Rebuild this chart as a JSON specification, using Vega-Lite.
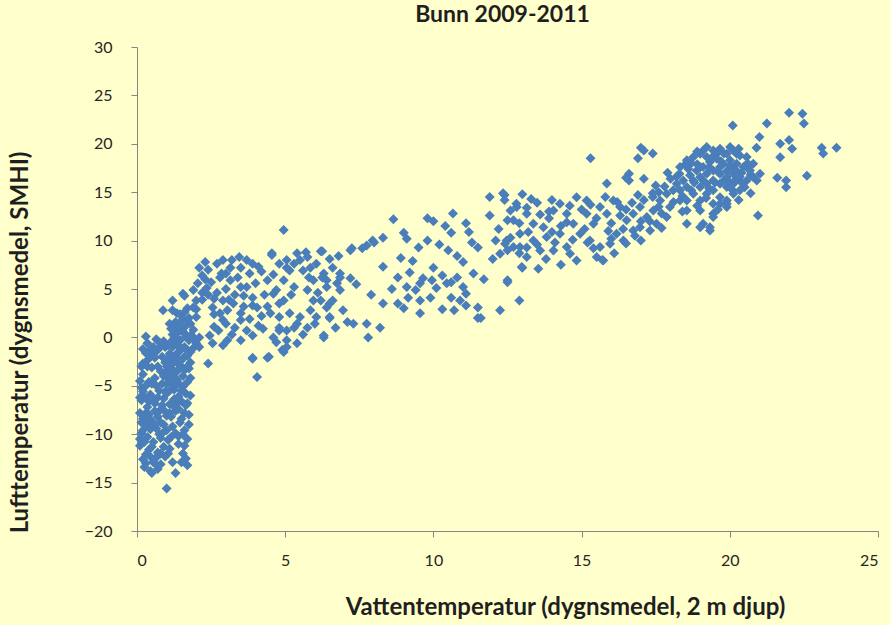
{
"$schema": "https://vega.github.io/schema/vega-lite/v6.json",
"width": 741, "height": 484,
"autosize": "none",
"padding": {"left": 137, "top": 47, "right": 13, "bottom": 94},
"background": "#FFFFCC",
"title": {"text": "Bunn 2009-2011", "font": "Lato", "fontSize": 23, "fontWeight": "bold", "color": "#1f1f1f", "anchor": "middle", "offset": 12, "dx": -5},
"config": {
  "view": {"stroke": null},
  "axis": {"domainColor": "#868686", "tickColor": "#868686", "tickSize": 6, "labelFont": "Lato", "labelFontSize": 16, "labelColor": "#262626", "titleFont": "Lato", "titleFontSize": 24, "titleFontWeight": "bold", "titleColor": "#1f1f1f", "grid": false, "labelPadding": 15}
},
"data": {"values": [
{"x":0.1,"y":-7.8},{"x":0.15,"y":-5.2},{"x":0.2,"y":-9.6},{"x":0.1,"y":-11.2},{"x":0.25,"y":-13.4},{"x":0.3,"y":-12.1},{"x":0.2,"y":-3.8},{"x":0.3,"y":-1.6},{"x":0.3,"y":0.1},{"x":0.15,"y":-6.5},{"x":0.2,"y":-8.4},{"x":0.35,"y":-10.3},{"x":0.4,"y":-4.6},{"x":0.1,"y":-10.5},{"x":0.45,"y":-13.8},{"x":0.25,"y":-2.7},{"x":0.35,"y":-7.2},{"x":0.4,"y":-11.6},{"x":0.2,"y":-12.6},{"x":0.3,"y":-9.1},{"x":0.45,"y":-5.9},{"x":0.5,"y":-3.1},{"x":0.5,"y":-8.6},{"x":0.55,"y":-12.9},{"x":0.4,"y":-2.2},{"x":0.35,"y":-0.6},{"x":0.55,"y":-10.8},{"x":0.6,"y":-6.8},{"x":0.6,"y":-4.2},{"x":0.65,"y":-9.4},{"x":0.7,"y":-1.3},{"x":0.7,"y":-11.9},{"x":0.75,"y":-7.6},{"x":0.8,"y":-3.5},{"x":0.8,"y":-13.1},{"x":0.75,"y":-5.5},{"x":0.85,"y":-9.9},{"x":0.9,"y":-0.4},{"x":0.9,"y":-6.3},{"x":0.95,"y":-12.3},{"x":0.95,"y":-2.6},{"x":1.0,"y":-4.8},{"x":1.0,"y":-8.1},{"x":1.0,"y":-15.6},{"x":1.05,"y":-10.6},{"x":1.1,"y":-1.7},{"x":1.1,"y":-6.9},{"x":1.15,"y":0.9},{"x":1.15,"y":-3.9},{"x":1.2,"y":-9.2},{"x":1.2,"y":-12.9},{"x":1.25,"y":-5.4},{"x":1.25,"y":-2.3},{"x":1.3,"y":-7.6},{"x":1.3,"y":1.6},{"x":1.3,"y":-14.0},{"x":1.35,"y":-0.8},{"x":1.35,"y":-4.4},{"x":1.4,"y":-10.2},{"x":1.4,"y":-6.1},{"x":1.45,"y":-2.9},{"x":1.45,"y":2.4},{"x":1.5,"y":-8.4},{"x":1.5,"y":-12.9},{"x":1.5,"y":-1.2},{"x":1.55,"y":-5.1},{"x":1.55,"y":-12.0},{"x":1.6,"y":-3.4},{"x":1.6,"y":0.4},{"x":1.6,"y":-9.6},{"x":1.65,"y":-7.0},{"x":1.7,"y":-1.9},{"x":1.7,"y":-4.6},{"x":1.7,"y":3.0},{"x":1.75,"y":-0.3},{"x":1.8,"y":1.4},{"x":1.8,"y":-2.6},{"x":1.9,"y":-1.1},{"x":1.9,"y":0.8},{"x":2.0,"y":2.1},{"x":2.0,"y":-0.6},
{"x":0.85,"y":-2.0},{"x":0.9,"y":-4.0},{"x":1.0,"y":-3.0},{"x":1.05,"y":-0.8},{"x":1.1,"y":-5.5},{"x":1.2,"y":-1.0},{"x":1.2,"y":-3.3},{"x":1.3,"y":-2.0},{"x":1.35,"y":-6.8},{"x":1.4,"y":-0.2},{"x":1.45,"y":-4.9},{"x":1.55,"y":-2.2},{"x":1.65,"y":-5.8},{"x":1.65,"y":1.2},{"x":0.95,"y":-1.0},{"x":1.05,"y":-4.2},{"x":1.15,"y":-2.8},{"x":1.25,"y":-0.1},{"x":1.35,"y":-3.5},{"x":1.5,"y":-6.6},{"x":1.45,"y":0.9},{"x":1.6,"y":-1.0},{"x":1.75,"y":-3.2},{"x":0.6,"y":-2.1},{"x":0.7,"y":-3.0},{"x":0.75,"y":-0.5},{"x":0.65,"y":-5.0},{"x":0.55,"y":-1.0},{"x":0.5,"y":-6.2},{"x":0.45,"y":-9.5},{"x":0.3,"y":-5.0},{"x":0.15,"y":-8.8},{"x":0.25,"y":-6.2},{"x":0.35,"y":-3.0},{"x":0.5,"y":-11.3},{"x":0.6,"y":-9.0},{"x":0.7,"y":-8.2},{"x":0.8,"y":-10.4},{"x":0.9,"y":-11.3},{"x":1.0,"y":-9.6},{"x":1.1,"y":-11.5},{"x":1.3,"y":-9.9},{"x":1.4,"y":-11.0},{"x":1.45,"y":-8.8},{"x":1.55,"y":-10.0},{"x":1.6,"y":-11.2},{"x":0.85,"y":-7.0},{"x":0.95,"y":-5.6},{"x":1.15,"y":-8.2},{"x":1.25,"y":-6.4},{"x":0.2,"y":-1.2},{"x":0.1,"y":-4.5},{"x":0.15,"y":-9.9},{"x":0.3,"y":-13.0},{"x":0.65,"y":-12.4},{"x":0.4,"y":-8.0},{"x":0.8,"y":-12.0},{"x":0.7,"y":-13.6},{"x":0.5,"y":-14.0},{"x":1.65,"y":-12.5},{"x":1.7,"y":-13.2},
{"x":1.75,"y":-8.0},{"x":1.8,"y":-6.0},{"x":1.7,"y":-10.5},{"x":1.75,"y":-9.0},{"x":1.8,"y":-4.2},{"x":1.8,"y":-1.5},{"x":1.85,"y":0.2},{"x":1.7,"y":-6.8},{"x":1.6,"y":-7.8},{"x":1.55,"y":-4.0},{"x":1.4,"y":-1.5},{"x":1.3,"y":-0.4},{"x":1.2,"y":0.3},{"x":1.05,"y":-2.2},{"x":0.95,"y":-3.6},{"x":0.85,"y":-4.8},{"x":1.1,"y":-3.5},{"x":1.25,"y":-4.1},{"x":1.35,"y":-2.6},{"x":1.45,"y":-1.0},{"x":1.5,"y":-3.0},{"x":1.3,"y":-5.0},{"x":1.15,"y":-4.8},{"x":1.0,"y":-5.8},{"x":0.9,"y":-7.5},{"x":1.1,"y":-7.8},{"x":1.2,"y":-7.0},{"x":1.4,"y":-7.4},{"x":1.5,"y":-5.5},{"x":1.6,"y":-2.0},{"x":1.7,"y":-3.0},{"x":1.65,"y":0.1},{"x":1.55,"y":0.6},{"x":1.45,"y":-0.3},{"x":1.35,"y":0.5},{"x":1.75,"y":2.0},{"x":1.55,"y":1.9},{"x":1.6,"y":2.6},{"x":1.4,"y":1.4},{"x":1.25,"y":0.9},{"x":0.8,"y":-8.8},{"x":0.7,"y":-6.2},{"x":0.6,"y":-7.6},{"x":0.5,"y":-4.8},{"x":0.4,"y":-6.6},{"x":0.3,"y":-7.8},{"x":0.2,"y":-5.6},{"x":0.1,"y":-6.2},{"x":0.15,"y":-3.0},{"x":0.25,"y":-10.8},{"x":0.35,"y":-8.8},{"x":0.45,"y":-12.3},{"x":0.6,"y":-13.0},{"x":0.75,"y":-10.0},{"x":0.9,"y":-9.0},{"x":1.05,"y":-12.0},{"x":1.15,"y":-10.3},{"x":0.55,"y":-1.8},{"x":0.65,"y":-0.2},{"x":0.45,"y":-1.3},
{"x":0.88,"y":2.8},{"x":1.2,"y":3.8},{"x":1.55,"y":4.5},{"x":1.9,"y":4.9},{"x":2.35,"y":5.1},{"x":2.7,"y":4.6},{"x":2.9,"y":3.8},{"x":3.05,"y":2.8},{"x":2.9,"y":1.8},{"x":2.75,"y":0.7},{"x":2.45,"y":0.2},{"x":2.1,"y":0.0},{"x":1.8,"y":0.2},{"x":1.45,"y":0.7},{"x":1.1,"y":1.4},{"x":1.35,"y":2.5},{"x":1.9,"y":3.1},{"x":2.55,"y":3.1},{"x":2.8,"y":2.5},{"x":1.7,"y":1.8},{"x":2.1,"y":-1.0},{"x":2.55,"y":-0.6},{"x":3.05,"y":-0.3},{"x":3.5,"y":-0.3},{"x":3.7,"y":0.7},{"x":3.5,"y":1.8},{"x":3.25,"y":3.5},{"x":3.5,"y":5.2},{"x":3.15,"y":5.9},{"x":2.8,"y":6.2},{"x":3.15,"y":7.2},{"x":3.5,"y":7.2},{"x":3.8,"y":6.6},{"x":3.7,"y":5.2},{"x":3.9,"y":4.1},{"x":4.05,"y":3.1},{"x":3.5,"y":2.5},{"x":0.78,"y":-1.0},{"x":0.45,"y":-1.7},{"x":1.2,"y":-0.3},{"x":1.7,"y":-1.3},{"x":1.35,"y":-1.7},{"x":1.0,"y":-2.4},{"x":0.2,"y":-2.7},
{"x":2.1,"y":7.2},{"x":2.2,"y":6.4},{"x":2.9,"y":8.0},{"x":3.2,"y":8.0},{"x":3.45,"y":8.3},{"x":3.7,"y":8.0},{"x":4.55,"y":8.5},{"x":2.85,"y":6.6},{"x":2.05,"y":5.6},{"x":1.6,"y":4.3},{"x":1.2,"y":2.8},{"x":2.4,"y":-2.7},{"x":4.05,"y":-4.1},{"x":3.9,"y":-2.2},{"x":4.45,"y":-2.0},{"x":4.9,"y":-1.3},{"x":4.25,"y":0.9},{"x":4.6,"y":0.0},{"x":3.9,"y":3.3},
{"x":2.2,"y":3.9},{"x":2.6,"y":4.0},{"x":2.0,"y":2.9},{"x":3.3,"y":4.4},{"x":3.0,"y":5.0},{"x":2.5,"y":5.7},{"x":2.2,"y":4.6},{"x":3.6,"y":3.2},{"x":3.3,"y":1.0},{"x":3.0,"y":1.4},{"x":2.6,"y":1.1},{"x":3.8,"y":1.9},{"x":4.2,"y":2.2},{"x":4.0,"y":5.6},{"x":4.2,"y":6.8},{"x":3.9,"y":7.6},{"x":2.4,"y":7.0},{"x":2.6,"y":2.4},{"x":1.95,"y":-0.3},{"x":3.2,"y":0.3},{"x":4.3,"y":4.4},
{"x":2.3,"y":7.8},{"x":2.7,"y":7.6},{"x":3.0,"y":6.6},{"x":3.4,"y":6.2},{"x":3.6,"y":4.3},{"x":3.1,"y":3.9},{"x":2.4,"y":4.4},{"x":2.0,"y":3.8},{"x":4.1,"y":7.3},{"x":4.4,"y":5.9},{"x":4.1,"y":1.2},{"x":3.9,"y":0.2},{"x":4.4,"y":3.2},{"x":2.9,"y":-0.8},{"x":2.3,"y":6.0},
{"x":5.05,"y":8.0},{"x":5.4,"y":8.7},{"x":5.75,"y":8.3},{"x":6.05,"y":7.6},{"x":6.3,"y":6.6},{"x":6.4,"y":5.2},{"x":6.2,"y":3.8},{"x":5.85,"y":2.8},{"x":5.5,"y":2.1},{"x":5.15,"y":2.5},{"x":4.8,"y":3.5},{"x":4.95,"y":5.9},{"x":5.15,"y":6.9},{"x":5.6,"y":6.9},{"x":5.95,"y":5.9},{"x":6.5,"y":3.5},{"x":6.75,"y":5.6},{"x":6.85,"y":6.6},{"x":6.95,"y":2.8},{"x":6.5,"y":2.1},{"x":5.3,"y":1.0},{"x":5.75,"y":1.0},{"x":4.8,"y":0.7},{"x":5.05,"y":-0.3},
{"x":4.55,"y":8.7},{"x":4.8,"y":7.6},{"x":5.5,"y":8.0},{"x":5.85,"y":7.2},{"x":6.2,"y":8.9},{"x":6.25,"y":6.2},{"x":4.7,"y":4.9},{"x":4.95,"y":3.8},{"x":5.75,"y":4.9},{"x":5.95,"y":3.8},{"x":6.05,"y":2.1},{"x":6.3,"y":0.0},{"x":4.8,"y":1.0},{"x":5.05,"y":-1.0},{"x":4.4,"y":-2.1},{"x":3.9,"y":-2.1},{"x":4.95,"y":-1.5},
{"x":5.05,"y":7.2},{"x":5.3,"y":7.6},{"x":4.6,"y":4.5},{"x":5.3,"y":5.2},{"x":4.8,"y":2.1},{"x":5.05,"y":0.7},{"x":5.4,"y":1.4},{"x":4.5,"y":2.5},{"x":4.95,"y":11.1},{"x":6.3,"y":0.2},
{"x":5.2,"y":4.4},{"x":5.8,"y":6.2},{"x":6.1,"y":4.6},{"x":6.6,"y":7.2},{"x":6.0,"y":1.4},{"x":5.6,"y":0.3},{"x":6.7,"y":1.0},{"x":4.6,"y":6.5},{"x":5.7,"y":8.8},{"x":6.5,"y":8.1},{"x":4.7,"y":-0.5},{"x":5.4,"y":-0.6},
{"x":10.66,"y":12.8},{"x":11.1,"y":11.8},{"x":9.8,"y":12.3},{"x":10.0,"y":12.0},{"x":8.65,"y":12.2},{"x":9.0,"y":10.8},{"x":9.1,"y":10.2},{"x":10.6,"y":10.8},{"x":9.8,"y":10.0},{"x":10.2,"y":9.6},{"x":10.5,"y":9.0},{"x":10.8,"y":8.4},{"x":11.0,"y":7.8},{"x":11.3,"y":9.8},{"x":11.5,"y":9.3},{"x":8.3,"y":10.3},{"x":8.0,"y":9.8},{"x":7.75,"y":9.5},{"x":7.6,"y":9.2},{"x":7.2,"y":9.0},{"x":6.8,"y":8.4},{"x":6.25,"y":8.9},{"x":8.3,"y":7.3},{"x":8.8,"y":6.2},{"x":8.6,"y":5.0},{"x":8.8,"y":3.5},{"x":8.3,"y":3.5},
{"x":9.3,"y":7.9},{"x":9.2,"y":6.7},{"x":9.55,"y":5.6},{"x":9.1,"y":5.2},{"x":9.4,"y":4.9},{"x":9.65,"y":6.1},{"x":9.95,"y":5.9},{"x":10.1,"y":5.1},{"x":9.9,"y":4.1},{"x":9.55,"y":3.8},{"x":9.15,"y":4.1},{"x":10.45,"y":5.6},{"x":10.6,"y":5.7},{"x":11.0,"y":5.2},{"x":11.35,"y":6.6},{"x":11.1,"y":4.5},{"x":10.6,"y":4.1},{"x":10.9,"y":3.8},{"x":11.1,"y":3.3},{"x":11.5,"y":3.1},{"x":11.5,"y":2.0},{"x":9.55,"y":2.5},
{"x":6.4,"y":5.9},{"x":6.85,"y":6.2},{"x":7.2,"y":6.1},{"x":6.85,"y":4.9},{"x":6.6,"y":3.8},{"x":6.4,"y":3.1},{"x":6.5,"y":2.0},{"x":7.1,"y":1.6},{"x":7.3,"y":1.4},{"x":7.75,"y":1.4},{"x":8.2,"y":1.0},{"x":7.8,"y":0.0},{"x":7.95,"y":10.0},{"x":7.25,"y":9.2},
{"x":10.3,"y":6.4},{"x":10.0,"y":7.2},{"x":10.8,"y":6.2},{"x":9.0,"y":3.0},{"x":10.3,"y":2.9},{"x":11.2,"y":10.9},{"x":10.4,"y":11.5},{"x":9.5,"y":9.3},{"x":8.9,"y":8.2},{"x":7.4,"y":5.5},{"x":7.9,"y":4.4},{"x":11.7,"y":6.0},{"x":10.7,"y":2.8},
{"x":11.9,"y":14.5},{"x":12.35,"y":14.9},{"x":12.6,"y":13.1},{"x":12.8,"y":13.8},{"x":13.15,"y":13.4},{"x":12.5,"y":12.1},{"x":12.9,"y":11.8},{"x":12.6,"y":10.3},{"x":12.5,"y":9.0},{"x":12.9,"y":8.7},{"x":13.15,"y":9.3},{"x":12.5,"y":5.9},{"x":12.9,"y":3.8},{"x":12.25,"y":2.8},{"x":11.6,"y":2.0},{"x":13.0,"y":7.2},{"x":12.4,"y":14.7},{"x":12.4,"y":14.2},{"x":12.5,"y":5.7},
{"x":12.81,"y":13.46},{"x":13.15,"y":12.78},{"x":12.7,"y":12.09},{"x":12.47,"y":10.02},{"x":12.92,"y":9.33},{"x":13.37,"y":10.02},{"x":13.71,"y":11.39},{"x":14.05,"y":13.12},{"x":14.27,"y":13.81},{"x":14.5,"y":12.78},{"x":14.72,"y":11.75},{"x":14.83,"y":14.49},{"x":15.17,"y":14.15},{"x":15.17,"y":12.78},{"x":15.4,"y":11.75},{"x":15.62,"y":13.46},{"x":15.85,"y":12.78},{"x":16.07,"y":14.15},{"x":16.3,"y":13.46},{"x":16.52,"y":12.09},{"x":16.74,"y":12.78},{"x":16.97,"y":13.46},{"x":17.2,"y":12.43},{"x":17.42,"y":13.12},{"x":17.65,"y":14.15},{"x":17.87,"y":14.84},{"x":17.31,"y":11.05},{"x":16.74,"y":11.05},{"x":16.18,"y":10.71},{"x":15.96,"y":9.68},{"x":15.62,"y":9.33},{"x":15.28,"y":10.02},{"x":14.95,"y":10.71},{"x":14.5,"y":9.33},{"x":14.05,"y":8.99},{"x":13.6,"y":8.99},{"x":13.15,"y":8.3},{"x":12.7,"y":9.33},{"x":12.25,"y":8.65},{"x":12.42,"y":9.68},{"x":12.92,"y":10.71},{"x":13.37,"y":11.75},{"x":13.82,"y":10.36},{"x":14.27,"y":10.71},{"x":14.61,"y":8.65},{"x":14.83,"y":7.95},{"x":13.54,"y":7.1},{"x":12.98,"y":7.26},{"x":15.51,"y":8.3},{"x":15.73,"y":7.95},{"x":16.41,"y":10.02},{"x":16.97,"y":11.39},{"x":17.53,"y":11.75},{"x":17.87,"y":12.43},{"x":17.98,"y":13.46},{"x":18.32,"y":14.15},{"x":18.55,"y":13.12},{"x":18.55,"y":11.75},{"x":19.0,"y":11.39},{"x":19.33,"y":11.05},{"x":19.44,"y":12.78},{"x":19.67,"y":13.81},{"x":19.9,"y":13.46},
{"x":13.3,"y":14.3},{"x":13.0,"y":14.8},{"x":13.9,"y":13.0},{"x":14.6,"y":13.6},{"x":15.3,"y":13.7},{"x":15.8,"y":14.5},{"x":16.5,"y":13.2},{"x":17.1,"y":14.2},{"x":17.7,"y":12.8},{"x":16.0,"y":11.8},{"x":15.2,"y":9.8},{"x":14.0,"y":10.9},{"x":13.5,"y":9.6},{"x":16.4,"y":11.2},{"x":17.0,"y":10.0},
{"x":18.32,"y":17.6},{"x":18.55,"y":18.29},{"x":18.77,"y":18.63},{"x":19.0,"y":18.98},{"x":19.22,"y":19.66},{"x":19.44,"y":19.32},{"x":19.67,"y":19.49},{"x":19.9,"y":18.98},{"x":20.12,"y":19.32},{"x":20.34,"y":18.8},{"x":20.57,"y":18.63},{"x":20.79,"y":17.94},{"x":21.02,"y":16.91},{"x":20.91,"y":16.22},{"x":20.68,"y":17.25},{"x":20.46,"y":17.6},{"x":20.23,"y":17.94},{"x":20.01,"y":18.29},{"x":19.78,"y":17.94},{"x":19.56,"y":18.46},{"x":19.33,"y":18.11},{"x":19.1,"y":17.6},{"x":18.88,"y":17.25},{"x":18.66,"y":16.74},{"x":18.43,"y":16.22},{"x":18.21,"y":15.88},{"x":18.09,"y":15.19},{"x":18.32,"y":15.19},{"x":18.55,"y":15.53},{"x":18.77,"y":16.22},{"x":19.0,"y":16.56},{"x":19.22,"y":16.91},{"x":19.44,"y":17.25},{"x":19.67,"y":16.91},{"x":19.9,"y":16.56},{"x":20.12,"y":16.91},{"x":20.34,"y":16.56},{"x":20.57,"y":16.22},{"x":20.12,"y":15.88},{"x":19.9,"y":15.53},{"x":19.67,"y":15.88},{"x":19.44,"y":16.22},{"x":19.22,"y":15.88},{"x":19.0,"y":15.53},{"x":18.77,"y":14.84},{"x":18.55,"y":14.15},{"x":19.0,"y":14.15},{"x":19.22,"y":14.84},{"x":19.44,"y":15.19},{"x":19.67,"y":14.49},{"x":19.9,"y":14.15},{"x":20.12,"y":14.84},{"x":20.34,"y":15.19},{"x":19.0,"y":13.12},{"x":19.44,"y":13.81},{"x":19.0,"y":17.6},{"x":19.22,"y":18.63},{"x":19.67,"y":17.6},{"x":20.12,"y":17.6},{"x":20.79,"y":16.56},{"x":19.44,"y":12.43},{"x":19.1,"y":11.75},{"x":19.33,"y":11.39},{"x":19.56,"y":18.98},{"x":20.01,"y":19.66},{"x":20.23,"y":18.98},
{"x":18.2,"y":16.6},{"x":18.4,"y":14.6},{"x":18.7,"y":15.2},{"x":18.9,"y":17.9},{"x":19.1,"y":16.2},{"x":19.3,"y":17.6},{"x":19.5,"y":16.0},{"x":19.7,"y":18.2},{"x":19.9,"y":17.2},{"x":20.0,"y":16.0},{"x":20.2,"y":17.3},{"x":20.4,"y":16.0},{"x":20.6,"y":17.6},{"x":18.6,"y":17.4},{"x":18.0,"y":16.4},{"x":17.8,"y":15.6},{"x":18.1,"y":14.0},{"x":18.9,"y":13.6},{"x":19.2,"y":14.4},{"x":19.6,"y":13.2},{"x":20.3,"y":14.2},{"x":20.5,"y":15.5},{"x":20.7,"y":14.9},{"x":18.4,"y":13.0},{"x":17.9,"y":17.0},{"x":19.8,"y":19.0},{"x":20.3,"y":19.5},{"x":19.4,"y":18.6},{"x":18.9,"y":19.2},{"x":20.6,"y":18.0},
{"x":18.7,"y":18.0},{"x":19.1,"y":19.3},{"x":19.6,"y":17.1},{"x":20.0,"y":17.7},{"x":20.4,"y":17.0},{"x":18.3,"y":16.9},{"x":18.8,"y":16.0},{"x":19.3,"y":15.4},{"x":19.8,"y":16.2},{"x":20.2,"y":16.3},{"x":20.7,"y":16.8},{"x":18.5,"y":17.9},
{"x":13.9,"y":12.3},{"x":14.3,"y":11.5},{"x":14.7,"y":10.1},{"x":15.1,"y":11.2},{"x":15.5,"y":12.3},{"x":15.9,"y":11.0},{"x":16.3,"y":12.6},{"x":16.7,"y":13.9},{"x":17.0,"y":12.0},{"x":17.6,"y":13.5},{"x":13.2,"y":10.9},{"x":14.1,"y":9.8},{"x":15.4,"y":9.2},{"x":16.0,"y":10.2},{"x":16.8,"y":10.5},{"x":17.3,"y":12.0},{"x":17.7,"y":11.3},{"x":14.5,"y":11.9},{"x":13.6,"y":12.7},{"x":15.0,"y":13.2},{"x":16.2,"y":14.0},{"x":14.0,"y":14.2},{"x":13.5,"y":13.9},{"x":12.2,"y":11.2},{"x":12.1,"y":10.0},{"x":12.0,"y":8.1},{"x":13.8,"y":8.1},{"x":14.3,"y":7.5},{"x":11.9,"y":12.6},
{"x":15.3,"y":18.5},{"x":17.0,"y":19.6},{"x":16.9,"y":18.5},{"x":17.4,"y":19.0},{"x":17.1,"y":19.3},{"x":20.1,"y":21.9},{"x":21.25,"y":22.1},{"x":22.0,"y":23.2},{"x":22.45,"y":23.1},{"x":22.5,"y":22.1},{"x":21.0,"y":20.7},{"x":20.9,"y":19.6},{"x":21.7,"y":20.0},{"x":22.0,"y":20.4},{"x":22.1,"y":19.5},{"x":21.7,"y":18.6},{"x":23.1,"y":19.6},{"x":23.6,"y":19.6},{"x":23.15,"y":19.0},{"x":21.6,"y":16.5},{"x":21.9,"y":16.2},{"x":21.9,"y":15.5},{"x":22.6,"y":16.7},{"x":20.95,"y":12.6},{"x":15.85,"y":15.9},{"x":16.5,"y":16.5},{"x":16.6,"y":16.2},{"x":17.1,"y":16.4},{"x":17.5,"y":15.7},{"x":17.4,"y":14.9},{"x":16.9,"y":14.7},{"x":15.7,"y":8.0},{"x":16.1,"y":8.7},{"x":16.5,"y":9.7},{"x":16.6,"y":16.9},{"x":17.6,"y":15.0},{"x":17.4,"y":14.5},{"x":19.9,"y":13.8},{"x":20.1,"y":15.2}
]},
"mark": {"type": "point", "shape": "diamond", "filled": true, "size": 100, "color": "#4A7EBB", "opacity": 1},
"encoding": {
  "x": {"field": "x", "type": "quantitative", "scale": {"domain": [0, 25], "nice": false, "zero": false},
        "axis": {"values": [0, 5, 10, 15, 20, 25], "title": "Vattentemperatur (dygnsmedel, 2 m djup)", "titleX": 428, "titleY": 76, "titleBaseline": "middle", "titleAlign": "center", "labelPadding": 15}},
  "y": {"field": "y", "type": "quantitative", "scale": {"domain": [-20, 30], "nice": false, "zero": false},
        "axis": {"values": [-20, -15, -10, -5, 0, 5, 10, 15, 20, 25, 30], "title": "Lufttemperatur (dygnsmedel, SMHI)", "titleX": -117, "titleY": 295, "titleBaseline": "middle", "titleAlign": "center", "labelPadding": 19}}
}
}
